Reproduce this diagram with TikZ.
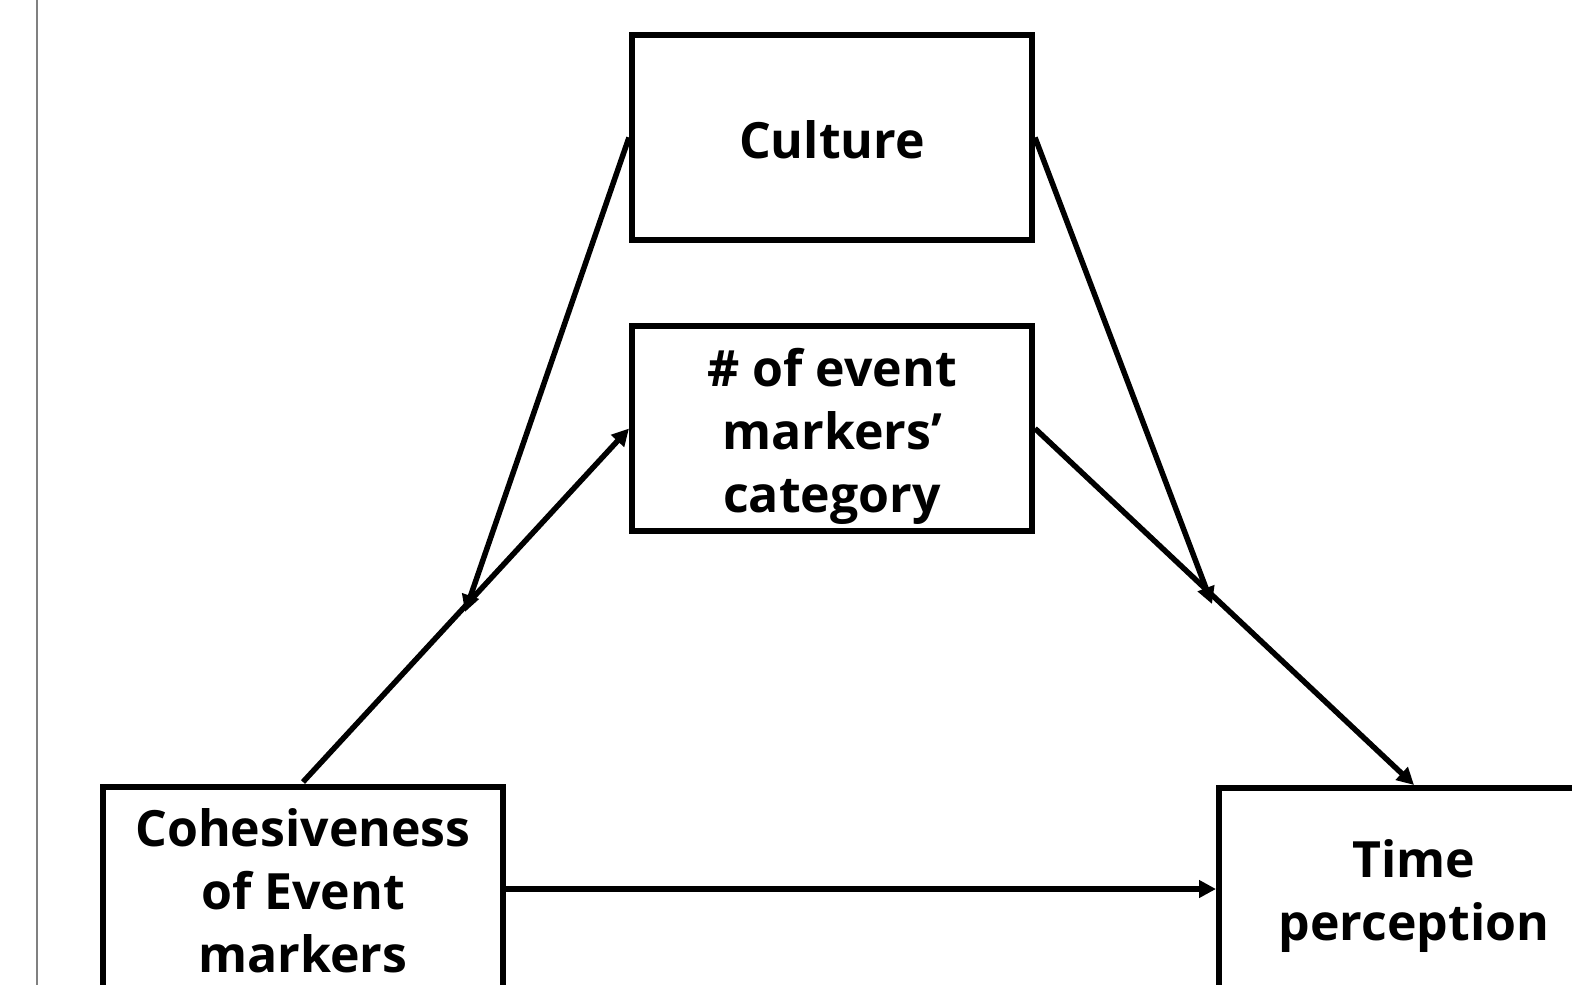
\documentclass[tikz,border=0pt]{standalone}
\usepackage{fontspec}
\setmainfont{Open Sans}
\usetikzlibrary{arrows.meta}
\begin{document}
\begin{tikzpicture}[x=1pt,y=-1pt,
  box/.style={draw,line width=6pt,minimum width=400pt,minimum height=205pt,inner sep=0pt},
  lbl/.style={font=\bfseries\fontsize{50}{63}\selectfont,align=center},
  link/.style={line width=5.5pt},
  arr/.style={link,-{Triangle[length=17pt,width=17pt]}}]
\useasboundingbox (0,0) rectangle (1572,985);
\clip (0,0) rectangle (1572,985);
\fill[white] (0,0) rectangle (1572,985);
% thin rule along the left edge
\draw[gray,line width=1.5pt] (37,0) -- (37,985);
% boxes
\node[box] (cult) at (832,137.5) {};
\node[box] (evt) at (832,428.5) {};
\node[box,anchor=north] (coh) at (302.5,784) {};
\node[box,anchor=north west] (time) at (1216,785) {};
% labels
\node[lbl] (cultT) at (832,140) {Culture};
\node[lbl] (evtT) at (832,436) {\# of event\\markers’\\category};
\node[lbl] (cohT) at (303,891) {Cohesiveness\\of Event\\markers};
\node[lbl] (timeT) at (1414,896) {Time\\perception};
% connector meeting points
\coordinate (m1) at (465,612);
\coordinate (m2) at (1212,604);
\coordinate (cohTop) at (303,782);
\coordinate (timeTop) at (1414,785);
% paths
\draw[arr] (cohTop) -- (evt.west);
\draw[arr] (evt.east) -- (timeTop);
\draw[arr] (cult.west) -- (m1);
\draw[arr] (cult.east) -- (m2);
\draw[arr] (coh.east |- 0,889) -- (time.west |- 0,889);
\end{tikzpicture}
\end{document}
